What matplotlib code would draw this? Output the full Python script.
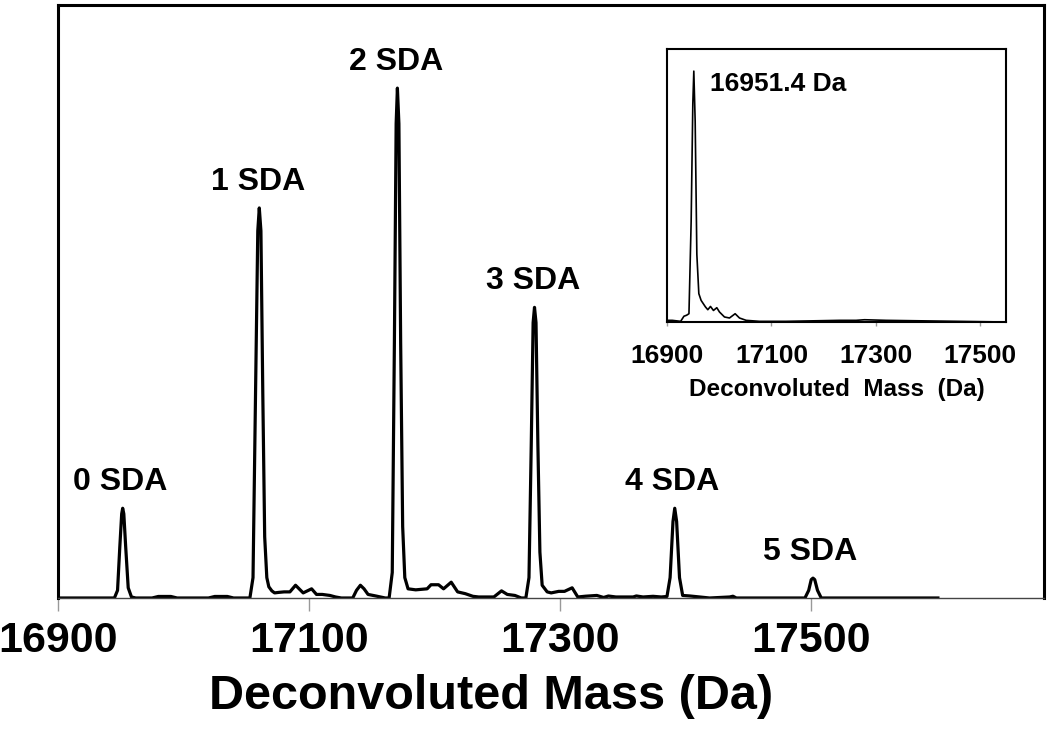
import matplotlib
matplotlib.use("Agg")
import matplotlib.pyplot as plt

plt.rcParams['font.family']=['Liberation Sans','DejaVu Sans']

#main spectrum (mass in Da, relative intensity in %)
mass=[16900,16935,16945,16947.5,16949.3,16950.8,16951.6,16952.5,16954,16956,16958.6,16962,
      16975,16980,16990,16995,17020,17025,17035,17040,
      17053,17055.5,17057.5,17059.3,17060.5,17061.8,17063.3,17064.8,17066.5,17068.1,17070.5,17072.7,
      17076,17080.3,17084.9,17089.4,17095.5,17102.2,17106.1,17110.7,17116.8,17121.3,17125.9,
      17135,17138,17141.1,17144,17147.2,17153.3,17160.9,
      17164,17166.5,17168.2,17169.6,17170.6,17171.8,17173.2,17174.8,17176.5,17179.1,17185.2,17194.3,
      17197.4,17203.4,17207.4,17213.5,17218.6,17224.7,17230.8,17235.4,17247.5,17253.6,17258.2,17264.3,17269.4,
      17273,17275.5,17277.3,17278.8,17279.9,17281.1,17282.6,17284.2,17286,17290,17293.2,17299.2,17303.8,
      17309.9,17314.4,17320.5,17329.6,17335,17338.8,17344.8,17358.5,17361.1,17366.4,17374.4,17381,
      17385.5,17388,17390.3,17391.7,17393.2,17395.5,17398,17403.6,17411.6,17419.5,17435.5,17438.1,17440.8,
      17495.5,17498.5,17500.5,17501.9,17503.3,17505.5,17508.5,17601.5]
intensity=[0,0,0,1.5,10,16.5,17.6,16.5,10,2,0.2,0,
           0,0.3,0.3,0,0,0.3,0.3,0,
           0,4,40,72,76.5,72,40,12,4,2.2,1.4,1.0,
           1.1,1.2,1.2,2.5,1.0,1.8,0.7,0.7,0.5,0.2,0,
           0,1.5,2.5,1.8,0.7,0.4,0,
           0,5,50,93,100,93,50,14,4,1.8,1.6,1.8,
           2.6,2.6,1.8,3.1,1.2,0.85,0.33,0.2,0.2,1.4,0.7,0.5,0,
           0,4,30,54,57,54,30,9,2.5,1.2,1.0,1.3,1.3,
           2.0,0.2,0.35,0.5,0.1,0.39,0.2,0.2,0.4,0.2,0.33,0.2,
           0.3,4,15,17.6,15,4,0.5,0.4,0.2,0,0.2,0.35,0,
           0,1.5,3.6,3.9,3.6,1.5,0,0]

#peak labels
peak_labels=['0 SDA','1 SDA','2 SDA','3 SDA','4 SDA','5 SDA']
peak_mass=[16950,17059.5,17169.5,17279,17390,17500]
peak_height=[17.6,76.5,100,57,17.6,3.9]

#inset spectrum
inset_mass=[16900.6,16910.2,16926.2,16932.5,16937.6,16942.1,16946.3,16949.5,16951.4,16954,16957.2,
            16961,16965.4,16973.7,16978.2,16983.3,16989,16995.4,17000.5,17010.1,17019.7,17030.5,
            17038.8,17051.6,17077.1,17128.1,17230.2,17262.1,17278.1,17319.5,17549]
inset_intensity=[0.66,0.66,0.26,2.3,2.7,3.3,40,87,100,80,27,
                 11.3,8.6,6.0,4.9,6.2,4.6,5.7,4.0,2.0,1.6,3.3,
                 1.6,0.66,0.26,0.26,0.66,0.66,0.9,0.66,0]

xticks=[16900,17100,17300,17500]

fig=plt.figure(figsize=(10.5,7.35),dpi=100)
ax=fig.add_axes([0.0552,0.1864,0.9390,0.8068])
ax.plot(mass,intensity,color='black',lw=2.3,solid_joinstyle='round')
ax.set_xlim(16900,17686)
ax.set_ylim(0,116.3)
ax.set_yticks([])
ax.set_xticks(xticks)
ax.set_xticklabels([str(t) for t in xticks],fontsize=31,fontweight='bold')
ax.tick_params(axis='x',direction='out',length=9.5,width=1,color='#999999',pad=7)
for s in ['top','left','right']:
    ax.spines[s].set_linewidth(2.2)
ax.spines['bottom'].set_linewidth(1.0)
ax.spines['bottom'].set_color('#444444')
ax.set_xlabel('Deconvoluted Mass (Da)',fontsize=35,fontweight='bold')
ax.xaxis.set_label_coords(0.439,-0.128)

for lab,m,h in zip(peak_labels,peak_mass,peak_height):
    ax.annotate(lab,(m,h),xytext=(0,8),textcoords='offset points',ha='center',va='bottom',
                fontsize=23,fontweight='bold')

#inset
ins=fig.add_axes([0.6352,0.5619,0.3229,0.3714])
ins.plot(inset_mass,inset_intensity,color='black',lw=1.2)
ins.set_xlim(16900,17549)
ins.set_ylim(0,108.8)
ins.set_yticks([])
ins.set_xticks(xticks)
ins.set_xticklabels([str(t) for t in xticks],fontsize=19,fontweight='bold')
ins.tick_params(axis='x',direction='out',length=3,width=1,color='#999999',pad=13)
for s in ins.spines.values():
    s.set_linewidth(1.5)
ins.set_xlabel('Deconvoluted  Mass  (Da)',fontsize=17.5,fontweight='bold',labelpad=7)
ins.text(16982,95,'16951.4 Da',fontsize=19,fontweight='bold',va='center',ha='left')

fig.savefig('out.png',dpi=100)
